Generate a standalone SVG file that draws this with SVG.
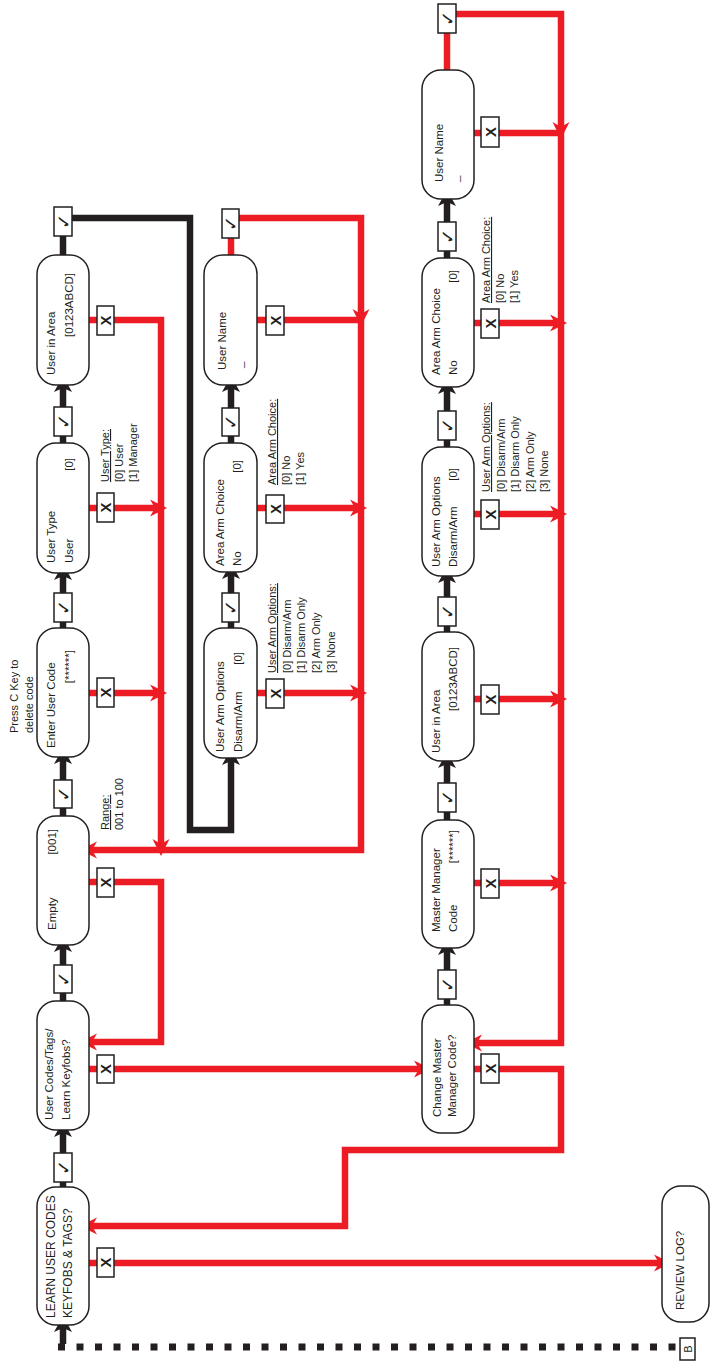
<svg xmlns="http://www.w3.org/2000/svg" width="710" height="1364" viewBox="0 0 710 1364">
<defs>
<style>
.node{fill:#fff;stroke:#231F20;stroke-width:1.5}
.sw{fill:#fff;stroke:#231F20;stroke-width:1.5}
.t{font-family:"Liberation Sans",Arial,sans-serif;font-size:11.5px;fill:#231F20}
.a{font-family:"Liberation Sans",Arial,sans-serif;font-size:11px;fill:#231F20}
.u{text-decoration:underline}
.ck{font-family:"DejaVu Sans",sans-serif;font-size:18px;fill:#231F20}
.x{font-family:"Liberation Sans",Arial,sans-serif;font-size:15px;font-weight:bold;fill:#231F20}
.r{fill:none;stroke:#ED1C24;stroke-width:6.5}
.k{fill:none;stroke:#231F20;stroke-width:6.5}
.ra{marker-end:url(#ra)}
.ka{marker-end:url(#ka)}
</style>
<marker id="ra" markerUnits="userSpaceOnUse" markerWidth="24" markerHeight="24" viewBox="-20 -12 24 24" refX="-9" refY="0" orient="auto">
<path d="M0,0 L-17,-8.5 L-12,0 L-17,8.5 Z" fill="#ED1C24"/>
</marker>
<marker id="ka" markerUnits="userSpaceOnUse" markerWidth="24" markerHeight="24" viewBox="-20 -12 24 24" refX="-9" refY="0" orient="auto">
<path d="M0,0 L-16,-9 L-12,0 L-16,9 Z" fill="#231F20"/>
</marker>
</defs>
<rect x="0" y="0" width="710" height="1364" fill="#fff"/>

<g id="connectors">
<path class="r ra" d="M89,1263 H662"/>
<path class="r ra" d="M89,1069 H422"/>
<path class="r ra" d="M89,882 H161 V1042 H89"/>
<path class="r ra" d="M89,693 H158"/>
<path class="r ra" d="M89,508 H158"/>
<path class="r ra" d="M89,320 H161 V847"/>
<path class="r ra" d="M257,320 H361 V850 H89"/>
<path class="r" d="M231,255 V236"/>
<path class="r ra" d="M238,218 H361 V317"/>
<path class="r ra" d="M257,508 H358"/>
<path class="r ra" d="M257,693 H358"/>
<path class="r" d="M447,70 V31"/>
<path class="r ra" d="M455,14 H561 V130"/>
<path class="r ra" d="M474,133 H561 V1043 H474"/>
<path class="r ra" d="M474,323 H558"/>
<path class="r ra" d="M474,514 H558"/>
<path class="r ra" d="M474,699 H558"/>
<path class="r ra" d="M474,883 H558"/>
<path class="r ra" d="M474,1069 H561 V1150 H345 V1226 H89"/>
<path class="k" d="M63,1187 V1181"/>
<path class="k ka" d="M63,1154 V1130"/>
<path class="k" d="M63,1001 V992"/>
<path class="k ka" d="M63,966 V945"/>
<path class="k" d="M63,816 V807"/>
<path class="k ka" d="M63,781 V757"/>
<path class="k" d="M63,628 V622"/>
<path class="k ka" d="M63,594 V573"/>
<path class="k" d="M63,443 V436"/>
<path class="k ka" d="M63,408 V385"/>
<path class="k" d="M63,255 V236"/>
<path class="k ka" d="M71,218 H190 V830 H231 V758"/>
<path class="k" d="M231,628 V622"/>
<path class="k ka" d="M231,594 V572"/>
<path class="k" d="M231,443 V435"/>
<path class="k ka" d="M231,409 V385"/>
<path class="k" d="M447,1005 V998"/>
<path class="k ka" d="M447,971 V948"/>
<path class="k" d="M447,820 V811"/>
<path class="k ka" d="M447,784 V761"/>
<path class="k" d="M447,632 V625"/>
<path class="k ka" d="M447,598 V576"/>
<path class="k" d="M447,447 V439"/>
<path class="k ka" d="M447,412 V387"/>
<path class="k" d="M447,258 V251"/>
<path class="k ka" d="M447,223 V199"/>
<path d="M58,1347 H682" fill="none" stroke="#231F20" stroke-width="7" stroke-dasharray="7 11.5"/>
<path class="k ka" d="M63,1344 V1325" stroke-width="5"/>
</g>

<g id="switches">
<rect class="sw" x="54" y="1153" width="18" height="29"/><text class="ck" transform="translate(63,1167.5) rotate(-90)" text-anchor="middle" dominant-baseline="central">✓</text>
<rect class="sw" x="54" y="965" width="18" height="28"/><text class="ck" transform="translate(63,979) rotate(-90)" text-anchor="middle" dominant-baseline="central">✓</text>
<rect class="sw" x="54" y="780" width="18" height="28"/><text class="ck" transform="translate(63,794) rotate(-90)" text-anchor="middle" dominant-baseline="central">✓</text>
<rect class="sw" x="54" y="593" width="18" height="29"/><text class="ck" transform="translate(63,607.5) rotate(-90)" text-anchor="middle" dominant-baseline="central">✓</text>
<rect class="sw" x="54" y="407" width="18" height="29"/><text class="ck" transform="translate(63,421.5) rotate(-90)" text-anchor="middle" dominant-baseline="central">✓</text>
<rect class="sw" x="54" y="207" width="18" height="29"/><text class="ck" transform="translate(63,221.5) rotate(-90)" text-anchor="middle" dominant-baseline="central">✓</text>

<rect class="sw" x="97" y="1248" width="17" height="29"/><text class="x" transform="translate(105.5,1262.5) rotate(-90)" text-anchor="middle" dominant-baseline="central">X</text>
<rect class="sw" x="97" y="1055" width="17" height="28"/><text class="x" transform="translate(105.5,1069) rotate(-90)" text-anchor="middle" dominant-baseline="central">X</text>
<rect class="sw" x="97" y="868" width="17" height="29"/><text class="x" transform="translate(105.5,882.5) rotate(-90)" text-anchor="middle" dominant-baseline="central">X</text>
<rect class="sw" x="97" y="678" width="17" height="29"/><text class="x" transform="translate(105.5,692.5) rotate(-90)" text-anchor="middle" dominant-baseline="central">X</text>
<rect class="sw" x="97" y="493" width="17" height="29"/><text class="x" transform="translate(105.5,507.5) rotate(-90)" text-anchor="middle" dominant-baseline="central">X</text>
<rect class="sw" x="97" y="306" width="17" height="29"/><text class="x" transform="translate(105.5,320.5) rotate(-90)" text-anchor="middle" dominant-baseline="central">X</text>

<rect class="sw" x="222" y="209" width="17" height="29"/><text class="ck" transform="translate(230.5,223.5) rotate(-90)" text-anchor="middle" dominant-baseline="central">✓</text>
<rect class="sw" x="222" y="408" width="17" height="28"/><text class="ck" transform="translate(230.5,422) rotate(-90)" text-anchor="middle" dominant-baseline="central">✓</text>
<rect class="sw" x="222" y="593" width="17" height="29"/><text class="ck" transform="translate(230.5,607.5) rotate(-90)" text-anchor="middle" dominant-baseline="central">✓</text>
<rect class="sw" x="266" y="306" width="18" height="29"/><text class="x" transform="translate(275,320.5) rotate(-90)" text-anchor="middle" dominant-baseline="central">X</text>
<rect class="sw" x="266" y="495" width="18" height="28"/><text class="x" transform="translate(275,509) rotate(-90)" text-anchor="middle" dominant-baseline="central">X</text>
<rect class="sw" x="266" y="679" width="18" height="29"/><text class="x" transform="translate(275,693.5) rotate(-90)" text-anchor="middle" dominant-baseline="central">X</text>

<rect class="sw" x="438" y="4" width="18" height="29"/><text class="ck" transform="translate(447,18.5) rotate(-90)" text-anchor="middle" dominant-baseline="central">✓</text>
<rect class="sw" x="438" y="222" width="18" height="29"/><text class="ck" transform="translate(447,236.5) rotate(-90)" text-anchor="middle" dominant-baseline="central">✓</text>
<rect class="sw" x="438" y="411" width="18" height="29"/><text class="ck" transform="translate(447,425.5) rotate(-90)" text-anchor="middle" dominant-baseline="central">✓</text>
<rect class="sw" x="438" y="597" width="18" height="29"/><text class="ck" transform="translate(447,611.5) rotate(-90)" text-anchor="middle" dominant-baseline="central">✓</text>
<rect class="sw" x="438" y="783" width="18" height="29"/><text class="ck" transform="translate(447,797.5) rotate(-90)" text-anchor="middle" dominant-baseline="central">✓</text>
<rect class="sw" x="438" y="970" width="18" height="29"/><text class="ck" transform="translate(447,984.5) rotate(-90)" text-anchor="middle" dominant-baseline="central">✓</text>
<rect class="sw" x="481" y="117" width="18" height="30"/><text class="x" transform="translate(490,132) rotate(-90)" text-anchor="middle" dominant-baseline="central">X</text>
<rect class="sw" x="481" y="309" width="18" height="29"/><text class="x" transform="translate(490,323.5) rotate(-90)" text-anchor="middle" dominant-baseline="central">X</text>
<rect class="sw" x="481" y="500" width="18" height="29"/><text class="x" transform="translate(490,514.5) rotate(-90)" text-anchor="middle" dominant-baseline="central">X</text>
<rect class="sw" x="481" y="685" width="18" height="29"/><text class="x" transform="translate(490,699.5) rotate(-90)" text-anchor="middle" dominant-baseline="central">X</text>
<rect class="sw" x="481" y="869" width="18" height="29"/><text class="x" transform="translate(490,883.5) rotate(-90)" text-anchor="middle" dominant-baseline="central">X</text>
<rect class="sw" x="481" y="1054" width="18" height="29"/><text class="x" transform="translate(490,1068.5) rotate(-90)" text-anchor="middle" dominant-baseline="central">X</text>
</g>

<g id="n-learn">
<rect class="node" x="37" y="1187" width="52" height="138" rx="19"/>
<text class="t" style="font-size:12px" transform="translate(55,1318) rotate(-90)">LEARN USER CODES</text>
<text class="t" style="font-size:12px" transform="translate(72,1318) rotate(-90)">KEYFOBS &amp; TAGS?</text>
</g>
<g id="n-usercodes">
<rect class="node" x="37" y="1001" width="52" height="129" rx="19"/>
<text class="t" transform="translate(53,1120) rotate(-90)">User Codes/Tags/</text>
<text class="t" transform="translate(70,1120) rotate(-90)">Learn Keyfobs?</text>
</g>
<g id="n-empty">
<rect class="node" x="37" y="816" width="52" height="129" rx="19"/>
<text class="t" transform="translate(56,930) rotate(-90)">Empty</text>
<text class="t" text-anchor="end" transform="translate(56,829) rotate(-90)">[001]</text>
</g>
<g id="n-enter">
<rect class="node" x="37" y="628" width="52" height="129" rx="19"/>
<text class="t" transform="translate(55,748) rotate(-90)">Enter User Code</text>
<text class="t" text-anchor="end" transform="translate(73,650) rotate(-90)">[******]</text>
</g>
<g id="n-usertype">
<rect class="node" x="37" y="443" width="52" height="130" rx="19"/>
<text class="t" transform="translate(55,563) rotate(-90)">User Type</text>
<text class="t" transform="translate(73,563) rotate(-90)">User</text>
<text class="t" text-anchor="end" transform="translate(73,458) rotate(-90)">[0]</text>
</g>
<g id="n-userarea1">
<rect class="node" x="37" y="255" width="52" height="130" rx="19"/>
<text class="t" transform="translate(55,375) rotate(-90)">User in Area</text>
<text class="t" text-anchor="end" transform="translate(73,273) rotate(-90)">[0123ABCD]</text>
</g>

<g id="n-username2">
<rect class="node" x="204" y="255" width="53" height="130" rx="19"/>
<text class="t" transform="translate(226,370) rotate(-90)">User Name</text>
<text class="t" transform="translate(243,368) rotate(-90)">_</text>
</g>
<g id="n-areaarm2">
<rect class="node" x="204" y="443" width="53" height="129" rx="19"/>
<text class="t" transform="translate(224,566) rotate(-90)">Area  Arm Choice</text>
<text class="t" transform="translate(241,566) rotate(-90)">No</text>
<text class="t" text-anchor="end" transform="translate(241,460) rotate(-90)">[0]</text>
</g>
<g id="n-armopt2">
<rect class="node" x="204" y="628" width="53" height="130" rx="19"/>
<text class="t" transform="translate(224,752) rotate(-90)">User Arm Options</text>
<text class="t" transform="translate(242,752) rotate(-90)">Disarm/Arm</text>
<text class="t" text-anchor="end" transform="translate(242,652) rotate(-90)">[0]</text>
</g>

<g id="n-username3">
<rect class="node" x="422" y="70" width="52" height="129" rx="19"/>
<text class="t" transform="translate(443,182) rotate(-90)">User Name</text>
<text class="t" transform="translate(459,182) rotate(-90)">_</text>
</g>
<g id="n-areaarm3">
<rect class="node" x="422" y="258" width="52" height="129" rx="19"/>
<text class="t" transform="translate(440,375) rotate(-90)">Area Arm Choice</text>
<text class="t" transform="translate(457,375) rotate(-90)">No</text>
<text class="t" text-anchor="end" transform="translate(457,270) rotate(-90)">[0]</text>
</g>
<g id="n-armopt3">
<rect class="node" x="422" y="447" width="52" height="129" rx="19"/>
<text class="t" transform="translate(440,567) rotate(-90)">User Arm Options</text>
<text class="t" transform="translate(457,567) rotate(-90)">Disarm/Arm</text>
<text class="t" text-anchor="end" transform="translate(457,468) rotate(-90)">[0]</text>
</g>
<g id="n-userarea3">
<rect class="node" x="422" y="632" width="52" height="129" rx="19"/>
<text class="t" transform="translate(440,753) rotate(-90)">User in Area</text>
<text class="t" text-anchor="end" transform="translate(457,647) rotate(-90)">[0123ABCD]</text>
</g>
<g id="n-mastercode">
<rect class="node" x="422" y="820" width="52" height="128" rx="19"/>
<text class="t" transform="translate(440,932) rotate(-90)">Master Manager</text>
<text class="t" transform="translate(457,932) rotate(-90)">Code</text>
<text class="t" text-anchor="end" transform="translate(457,830) rotate(-90)">[******]</text>
</g>
<g id="n-changemaster">
<rect class="node" x="422" y="1005" width="52" height="128" rx="19"/>
<text class="t" transform="translate(441,1117) rotate(-90)">Change Master</text>
<text class="t" transform="translate(456,1117) rotate(-90)">Manager Code?</text>
</g>

<g id="n-review">
<rect class="node" x="662" y="1186" width="47" height="136" rx="19"/>
<text class="t" transform="translate(684,1310) rotate(-90)">REVIEW LOG?</text>
</g>
<g id="n-b">
<rect class="sw" x="680" y="1338" width="15" height="22"/>
<text class="a" transform="translate(692,1349) rotate(-90)" text-anchor="middle">B</text>
</g>

<g id="notes">
<text class="a" transform="translate(18,733) rotate(-90)">Press C Key to</text>
<text class="a" transform="translate(33,733) rotate(-90)">delete code</text>
<text class="a u" transform="translate(109,830) rotate(-90)">Range:</text>
<text class="a" transform="translate(123,830) rotate(-90)">001 to 100</text>
<text class="a u" transform="translate(109,482) rotate(-90)">User Type:</text>
<text class="a" transform="translate(123,482) rotate(-90)">[0] User</text>
<text class="a" transform="translate(137,482) rotate(-90)">[1] Manager</text>
<text class="a u" transform="translate(276,485) rotate(-90)">Area Arm Choice:</text>
<text class="a" transform="translate(290,485) rotate(-90)">[0] No</text>
<text class="a" transform="translate(304,485) rotate(-90)">[1] Yes</text>
<text class="a u" transform="translate(276,673) rotate(-90)">User Arm Options:</text>
<text class="a" transform="translate(291,673) rotate(-90)">[0] Disarm/Arm</text>
<text class="a" transform="translate(305,673) rotate(-90)">[1] Disarm Only</text>
<text class="a" transform="translate(320,673) rotate(-90)">[2] Arm Only</text>
<text class="a" transform="translate(335,673) rotate(-90)">[3] None</text>
<text class="a u" transform="translate(490,303) rotate(-90)">Area Arm Choice:</text>
<text class="a" transform="translate(504,303) rotate(-90)">[0] No</text>
<text class="a" transform="translate(518,303) rotate(-90)">[1] Yes</text>
<text class="a u" transform="translate(490,492) rotate(-90)">User Arm Options:</text>
<text class="a" transform="translate(505,492) rotate(-90)">[0] Disarm/Arm</text>
<text class="a" transform="translate(519,492) rotate(-90)">[1] Disarm Only</text>
<text class="a" transform="translate(534,492) rotate(-90)">[2] Arm Only</text>
<text class="a" transform="translate(548,492) rotate(-90)">[3] None</text>
</g>
</svg>
